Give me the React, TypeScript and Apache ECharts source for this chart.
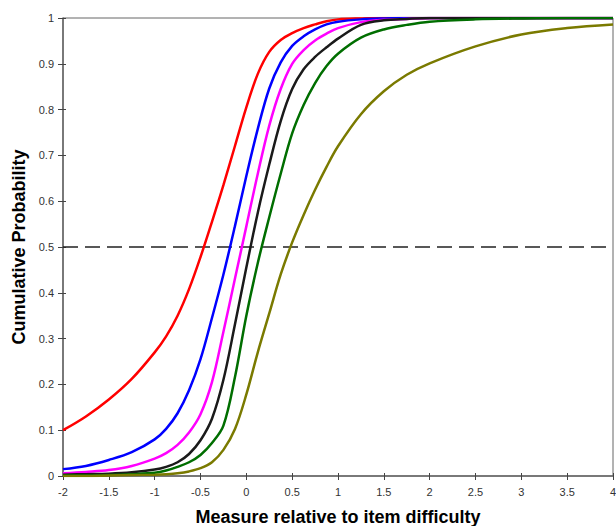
import React, { useEffect, useRef } from "react";
import * as echarts from "echarts";

const xValues = [-2, -1.75, -1.5, -1.25, -1, -0.875, -0.75, -0.625, -0.5, -0.375, -0.25, -0.125, 0, 0.125, 0.25, 0.375, 0.5, 0.625, 0.75, 0.875, 1, 1.25, 1.5, 1.75, 2, 2.5, 3, 3.5, 4];

const redValues = [0.10, 0.13, 0.167, 0.212, 0.27, 0.305, 0.35, 0.408, 0.478, 0.555, 0.635, 0.72, 0.805, 0.878, 0.926, 0.952, 0.967, 0.978, 0.986, 0.993, 0.997, 0.999, 1, 1, 1, 1, 1, 1, 1];
const blueValues = [0.015, 0.022, 0.035, 0.052, 0.08, 0.103, 0.137, 0.187, 0.255, 0.345, 0.44, 0.545, 0.655, 0.758, 0.846, 0.903, 0.939, 0.96, 0.975, 0.986, 0.992, 0.997, 0.999, 1, 1, 1, 1, 1, 1];
const magentaValues = [0.006, 0.009, 0.013, 0.022, 0.038, 0.05, 0.068, 0.095, 0.135, 0.205, 0.315, 0.43, 0.545, 0.66, 0.765, 0.845, 0.9, 0.93, 0.951, 0.966, 0.978, 0.991, 0.996, 0.998, 1, 1, 1, 1, 1];
const blackValues = [0.003, 0.004, 0.005, 0.008, 0.014, 0.02, 0.03, 0.048, 0.078, 0.125, 0.21, 0.33, 0.455, 0.575, 0.68, 0.775, 0.845, 0.888, 0.915, 0.936, 0.955, 0.985, 0.995, 0.998, 1, 1, 1, 1, 1];
const greenValues = [0.001, 0.001, 0.002, 0.004, 0.007, 0.012, 0.02, 0.03, 0.046, 0.072, 0.11, 0.215, 0.35, 0.465, 0.565, 0.66, 0.748, 0.81, 0.858, 0.895, 0.922, 0.957, 0.975, 0.985, 0.992, 0.997, 0.999, 1, 1];
const oliveValues = [0, 0, 0.001, 0.002, 0.003, 0.004, 0.006, 0.01, 0.017, 0.03, 0.057, 0.102, 0.178, 0.27, 0.355, 0.44, 0.51, 0.57, 0.625, 0.675, 0.72, 0.79, 0.84, 0.876, 0.901, 0.938, 0.964, 0.978, 0.986];

const seriesList = [
  { name: "red", color: "#ff0000", values: redValues },
  { name: "blue", color: "#0000ff", values: blueValues },
  { name: "magenta", color: "#ff00ff", values: magentaValues },
  { name: "black", color: "#1a1a1a", values: blackValues },
  { name: "green", color: "#006e00", values: greenValues },
  { name: "olive", color: "#7a7a00", values: oliveValues },
];

const referenceLine = [[-2, 0.5], [4, 0.5]];

const xTitle = "Measure relative to item difficulty";
const yTitle = "Cumulative Probability";

export default function App() {
  const ref = useRef<HTMLDivElement>(null);
  useEffect(() => {
    if (!ref.current) return;
    const chart = echarts.init(ref.current, null, { renderer: "svg" });
    const font = "Arial, 'Liberation Sans', sans-serif";
    const axisColor = "#666";
    const labelStyle = { color: "#333", fontSize: 11, fontFamily: font };
    chart.setOption({
      animation: false,
      backgroundColor: "#fff",
      grid: {
        left: 63, right: 3, top: 18, bottom: 50,
        outerBoundsMode: "none", containLabel: false,
        show: true, borderColor: axisColor, borderWidth: 1,
      },
      xAxis: [
        {
          type: "value", min: -2, max: 4, interval: 0.5,
          position: "bottom",
          axisLine: { show: true, onZero: false, lineStyle: { color: axisColor, width: 1.5 } },
          axisTick: { show: true, length: 4, lineStyle: { color: "#444" } },
          axisLabel: { ...labelStyle, margin: 10 },
          splitLine: { show: false },
          name: xTitle, nameLocation: "middle", nameGap: 32,
          nameTextStyle: { fontSize: 18, fontWeight: "bold", color: "#000", fontFamily: font },
        },
        {
          type: "value", min: -2, max: 4, interval: 0.5,
          position: "bottom",
          axisLine: { show: false, onZero: false },
          axisTick: { show: true, inside: true, length: 3, lineStyle: { color: "#444" } },
          axisLabel: { show: false },
          splitLine: { show: false },
        },
      ],
      yAxis: [
        {
          type: "value", min: 0, max: 1, interval: 0.1,
          position: "left",
          axisLine: { show: true, onZero: false, lineStyle: { color: axisColor, width: 1.5 } },
          axisTick: { show: true, length: 5, lineStyle: { color: "#444" } },
          axisLabel: { ...labelStyle, margin: 9, formatter: (v: number) => String(Math.round(v * 10) / 10) },
          splitLine: { show: false },
          name: yTitle, nameLocation: "middle", nameGap: 34,
          nameTextStyle: { fontSize: 18, fontWeight: "bold", color: "#000", fontFamily: font },
        },
        {
          type: "value", min: 0, max: 1, interval: 0.1,
          position: "left",
          axisLine: { show: false, onZero: false },
          axisTick: { show: true, inside: true, length: 3, lineStyle: { color: "#444" } },
          axisLabel: { show: false },
          splitLine: { show: false },
        },
      ],
      series: [
        {
          type: "line",
          data: referenceLine,
          symbol: "none",
          silent: true,
          lineStyle: { color: "#222", width: 1.3, type: [15, 7] },
          z: 1,
        },
        ...seriesList.map((s) => ({
          type: "line",
          name: s.name,
          data: xValues.map((x, i) => [x, s.values[i]]),
          symbol: "none",
          smooth: 0.35,
          lineStyle: { color: s.color, width: 2.5 },
          itemStyle: { color: s.color },
          z: 3,
        })),
      ],
    });
    return () => chart.dispose();
  }, []);
  return <div ref={ref} style={{ position: "fixed", left: 0, top: 0, width: 616, height: 526 }} />;
}
